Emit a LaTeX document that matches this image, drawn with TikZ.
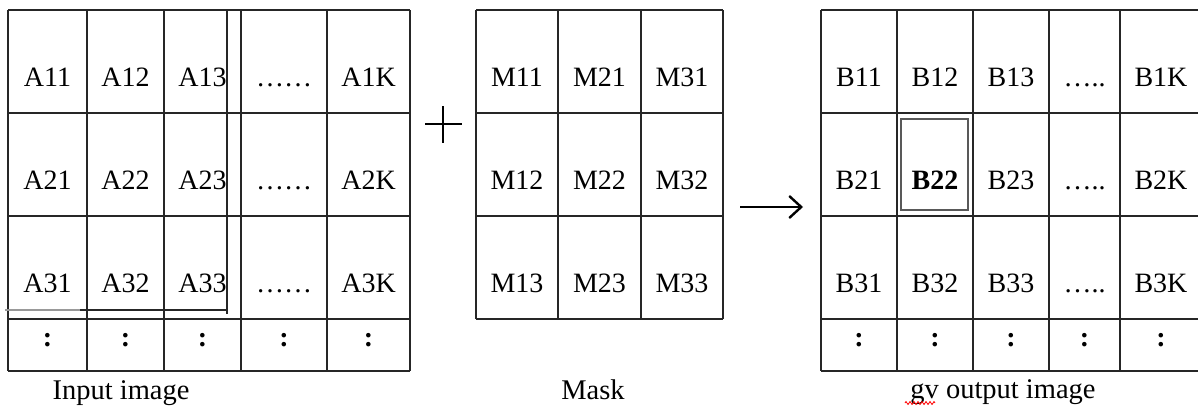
\documentclass[tikz,border=0pt]{standalone}
\usepackage{fontspec}
\setmainfont{Liberation Serif}
\usetikzlibrary{arrows.meta,decorations.pathmorphing}
\begin{document}
\begin{tikzpicture}[x=1pt,y=-1pt,
  gridline/.style={draw=black!85,line width=1.4pt},
  cell/.style={anchor=base,inner sep=0pt,font=\fontsize{28}{32}\selectfont},
  caption/.style={anchor=base,inner sep=0pt,font=\fontsize{28.5}{32}\selectfont},
  markline/.style={draw=black!85,line width=1.4pt},
  focus/.style={draw=black!65,line width=2pt},
  symline/.style={draw=black,line width=2.2pt}]
\useasboundingbox (0,0) rectangle (1198,408);

% ---------- input image grid ----------
\foreach \y in {10,113,216,319,371} \draw[gridline] (8,\y) -- (410,\y);
\foreach \x in {8,87,164,241,327,410} \draw[gridline] (\x,10) -- (\x,371);
% outline of the 3x3 neighbourhood
\draw[markline] (227,10) -- (227,314);
\draw[markline] (80,310) -- (227,310);
\draw[draw=black!40,line width=1.4pt] (5,310) -- (80,310);

\foreach \r/\b in {1/86,2/189,3/292}{
  \node[cell] (a\r1) at (47.5,\b) {A\r1};
  \node[cell] (a\r2) at (125.5,\b) {A\r2};
  \node[cell] (a\r3) at (202.5,\b) {A\r3};
  \node[cell] (a\r4) at (284,\b) {……};
  \node[cell] (a\r5) at (368.5,\b) {A\r K};
}
\foreach \c/\x in {1/47.5,2/125.5,3/202.5,4/284,5/368.5}
  \node[cell] (a4\c) at (\x,346) {\bfseries :};
\node[caption] (inlabel) at (121,399) {Input image};

% ---------- plus sign ----------
\coordinate (plusL) at (425,124);
\coordinate (plusR) at (462,124);
\coordinate (plusT) at (443,106);
\coordinate (plusB) at (443,143);
\draw[symline] (plusL) -- (plusR);
\draw[symline] (plusT) -- (plusB);

% ---------- mask grid ----------
\foreach \y in {10,113,216,319} \draw[gridline] (476,\y) -- (723,\y);
\foreach \x in {476,558,641,723} \draw[gridline] (\x,10) -- (\x,319);
\foreach \r/\b in {1/86,2/189,3/292}{
  \node[cell] (m1\r) at (517,\b) {M1\r};
  \node[cell] (m2\r) at (599.5,\b) {M2\r};
  \node[cell] (m3\r) at (682,\b) {M3\r};
}
\node[caption] (masklabel) at (593,399) {Mask};

% ---------- arrow ----------
\coordinate (arrS) at (740,207);
\coordinate (arrE) at (803,207);
\draw[symline,-{Straight Barb[length=12pt,width=22pt,line width=2.4pt]}] (arrS) -- (arrE);

% ---------- output image grid ----------
\foreach \y in {10,113,216,319,371} \draw[gridline] (821,\y) -- (1198,\y);
\foreach \x in {821,897,973,1049,1120} \draw[gridline] (\x,10) -- (\x,371);
\draw[focus] (901,119) rectangle (968,210);

\foreach \r/\b in {1/86,2/189,3/292}{
  \node[cell] (b\r1) at (859,\b) {B\r1};
  \node[cell] (b\r3) at (1011,\b) {B\r3};
  \node[cell] (b\r4) at (1084.5,\b) {…..};
  \node[cell] (b\r5) at (1161,\b) {B\r K};
}
\node[cell] (b12) at (935,86) {B12};
\node[cell] (b22) at (935,189) {\bfseries B22};
\node[cell] (b32) at (935,292) {B32};
\foreach \c/\x in {1/859,2/935,3/1011,4/1084.5,5/1161}
  \node[cell] (b4\c) at (\x,346) {\bfseries :};
\node[caption] (outlabel) at (1003,398) {gv output image};
\coordinate (spellS) at (905,403);
\coordinate (spellE) at (935,403);
\draw[red,line width=0.8pt,decorate,decoration={zigzag,amplitude=1.5pt,segment length=4pt}] (spellS) -- (spellE);
\end{tikzpicture}
\end{document}
